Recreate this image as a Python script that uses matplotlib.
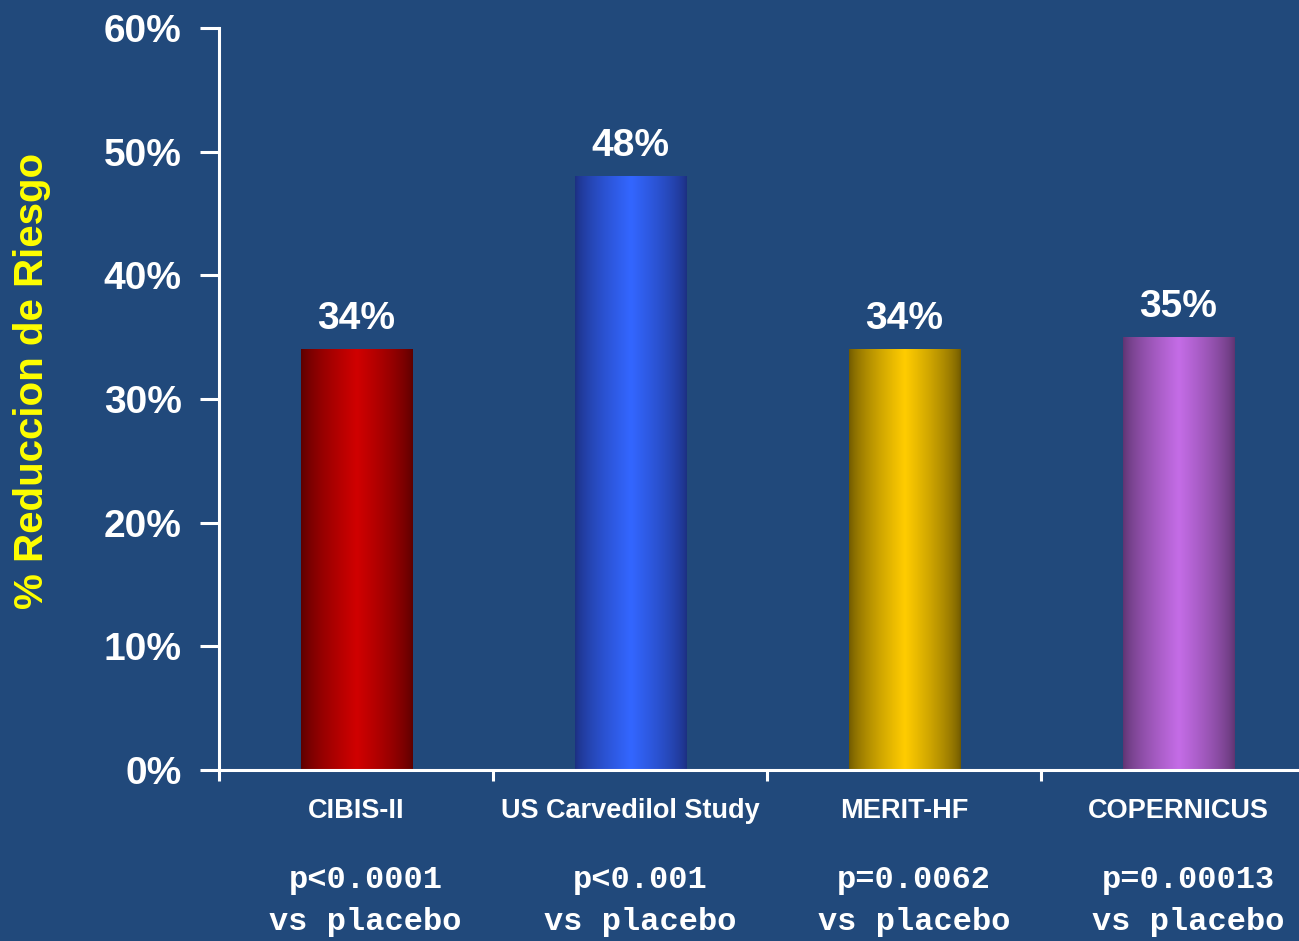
import numpy as np
import matplotlib.pyplot as plt
from matplotlib.colors import LinearSegmentedColormap

trials = ["CIBIS-II", "US Carvedilol Study", "MERIT-HF", "COPERNICUS"]
reduction = [34, 48, 34, 35]
pvalues = ["p<0.0001", "p<0.001", "p=0.0062", "p=0.00013"]
edge_colors = ["#5a0000", "#1c2f80", "#6e5800", "#5e3470"]
mid_colors = ["#d00000", "#3366ff", "#ffcc00", "#c46ce6"]

bg = "#21497b"

fig = plt.figure(figsize=(12.99, 9.41), dpi=100, facecolor=bg)
ax = fig.add_axes([0.1686, 0.1817, 0.8314, 0.7885], facecolor=bg)

x = np.arange(len(trials))
bars = ax.bar(x, reduction, width=0.405, color="none", zorder=2)

# horizontal shading across each bar: dark edges, bright middle
t = np.linspace(0, 1, 256)
prof = np.clip(1 - np.abs(t - 0.5) / 0.5, 0, 1) ** 0.7
for b, c0, c1 in zip(bars, edge_colors, mid_colors):
    cmap = LinearSegmentedColormap.from_list("shade", [c0, c1])
    x0, w, h = b.get_x(), b.get_width(), b.get_height()
    ax.imshow(prof[np.newaxis, :], cmap=cmap, aspect="auto",
              extent=(x0, x0 + w, 0, h), zorder=2, interpolation="bilinear")
    ax.text(x0 + w / 2, h + 1.0, f"{h:.0f}%", ha="center", va="bottom",
            color="white", fontsize=28, fontweight="bold", family="Liberation Sans")

ax.set_xlim(-0.5, 3.44)
ax.set_ylim(0, 60)

ax.set_yticks(range(0, 61, 10))
ax.set_yticklabels([f"{v}%" for v in range(0, 61, 10)])
ax.tick_params(axis="y", colors="white", length=14, width=2.2, pad=13,
               labelsize=28)
for lab in ax.get_yticklabels():
    lab.set_fontweight("bold")
    lab.set_family("Liberation Sans")

ax.set_xticks([-0.5, 0.5, 1.5, 2.5])
ax.set_xticklabels([])
ax.tick_params(axis="x", colors="white", length=8, width=2.2)

for s in ["top", "right"]:
    ax.spines[s].set_visible(False)
for s in ["left", "bottom"]:
    ax.spines[s].set_color("white")
    ax.spines[s].set_linewidth(2.2)

fig.text(0.025, 0.595, "% Reduccion de Riesgo", rotation=90, ha="center",
         va="center", color="#ffff00", fontsize=29, fontweight="bold",
         family="Liberation Sans")

for i, name in enumerate(trials):
    ax.text(i, -3.3, name, ha="center", va="center", color="white",
            fontsize=19.5, fontweight="bold", family="Liberation Sans")
    ax.text(i + 0.035, -8.9, pvalues[i], ha="center", va="center", color="white",
            fontsize=23, fontweight="bold", family="Liberation Mono")
    ax.text(i + 0.035, -12.3, "vs placebo", ha="center", va="center", color="white",
            fontsize=23, fontweight="bold", family="Liberation Mono")

fig.savefig("out.png", dpi=100, facecolor=bg)
